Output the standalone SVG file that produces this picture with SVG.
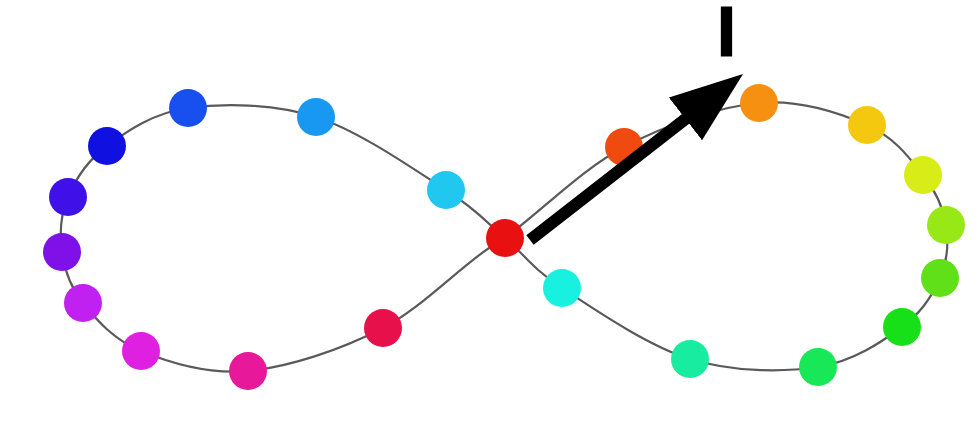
<svg xmlns="http://www.w3.org/2000/svg" width="978" height="427" viewBox="0 0 978 427">
<defs>
<style>
.curve{fill:none;stroke:#5a5a5a;stroke-width:2.2}
.dot{stroke:none}
.label{font-family:"Liberation Sans",Arial,sans-serif;font-weight:bold;font-size:70px;fill:#000;stroke:#000;stroke-width:1.2}
</style>
<marker id="head" markerUnits="userSpaceOnUse" markerWidth="76" markerHeight="56" refX="13" refY="27" orient="auto">
<path d="M0,0 L73,27 L0,54 z" fill="#000"/>
</marker>
</defs>
<rect width="978" height="427" fill="#fff"/>
<g id="connectors">
<path class="curve" d="M505,238 C545.2,207.8 581.7,169.5 624,147 C666.3,124.5 718.5,106.7 759,103 C799.5,99.3 839.7,113 867,125 C894.3,137 909.8,158.3 923,175 C936.2,191.7 943.2,207.8 946,225 C948.8,242.2 947.3,261 940,278 C932.7,295 922.3,312.2 902,327 C881.7,341.8 853.3,361.7 818,367 C782.7,372.3 732.7,372.2 690,359 C647.3,345.8 592.8,308.2 562,288 C531.2,267.8 524.3,254.3 505,238 C485.7,221.7 477.5,210.2 446,190 C414.5,169.8 359,130.7 316,117 C273,103.3 222.8,103.2 188,108 C153.2,112.8 127,131.2 107,146 C87,160.8 75.5,179.3 68,197 C60.5,214.7 59.5,234.3 62,252 C64.5,269.7 69.8,286.5 83,303 C96.2,319.5 113.5,339.7 141,351 C168.5,362.3 207.7,374.8 248,371 C288.3,367.2 340.2,350.2 383,328 C425.8,305.8 464.8,260.2 505,238 Z"/>
</g>
<g id="n-center"><circle class="dot" cx="505" cy="238" r="19" fill="#e81010"/></g>
<g id="n-orangered"><circle class="dot" cx="624" cy="147" r="19" fill="#f04a10"/></g>
<g id="n-orange"><circle class="dot" cx="759" cy="103" r="19" fill="#f59010"/></g>
<g id="n-gold"><circle class="dot" cx="867" cy="125" r="19" fill="#f5c810"/></g>
<g id="n-yellow"><circle class="dot" cx="923" cy="175" r="19" fill="#d8ec18"/></g>
<g id="n-chartreuse"><circle class="dot" cx="946" cy="225" r="19" fill="#98e818"/></g>
<g id="n-yellowgreen"><circle class="dot" cx="940" cy="278" r="19" fill="#60e018"/></g>
<g id="n-brightgreen"><circle class="dot" cx="902" cy="327" r="19" fill="#18e018"/></g>
<g id="n-green"><circle class="dot" cx="818" cy="367" r="19" fill="#18e858"/></g>
<g id="n-aquamarine"><circle class="dot" cx="690" cy="359" r="19" fill="#18eca0"/></g>
<g id="n-aqua"><circle class="dot" cx="562" cy="288" r="19" fill="#18f0e0"/></g>
<g id="n-cyan"><circle class="dot" cx="446" cy="190" r="19" fill="#20c8f0"/></g>
<g id="n-lightblue"><circle class="dot" cx="316" cy="117" r="19" fill="#1898f0"/></g>
<g id="n-blue"><circle class="dot" cx="188" cy="108" r="19" fill="#1850f0"/></g>
<g id="n-darkblue"><circle class="dot" cx="107" cy="146" r="19" fill="#1010e0"/></g>
<g id="n-indigo"><circle class="dot" cx="68" cy="197" r="19" fill="#4010e8"/></g>
<g id="n-purple"><circle class="dot" cx="62" cy="252" r="19" fill="#8010e8"/></g>
<g id="n-violet"><circle class="dot" cx="83" cy="303" r="19" fill="#c020f0"/></g>
<g id="n-magenta"><circle class="dot" cx="141" cy="351" r="19" fill="#e020e0"/></g>
<g id="n-pink"><circle class="dot" cx="248" cy="371" r="19" fill="#e8189a"/></g>
<g id="n-crimson"><circle class="dot" cx="383" cy="328" r="19" fill="#e8104a"/></g>
<g id="arrow">
<line x1="530" y1="240" x2="695.7" y2="110.9" stroke="#000" stroke-width="12" marker-end="url(#head)"/>
</g>
<g id="label">
<text class="label" x="726.5" y="56" text-anchor="middle">I</text>
</g>
</svg>
